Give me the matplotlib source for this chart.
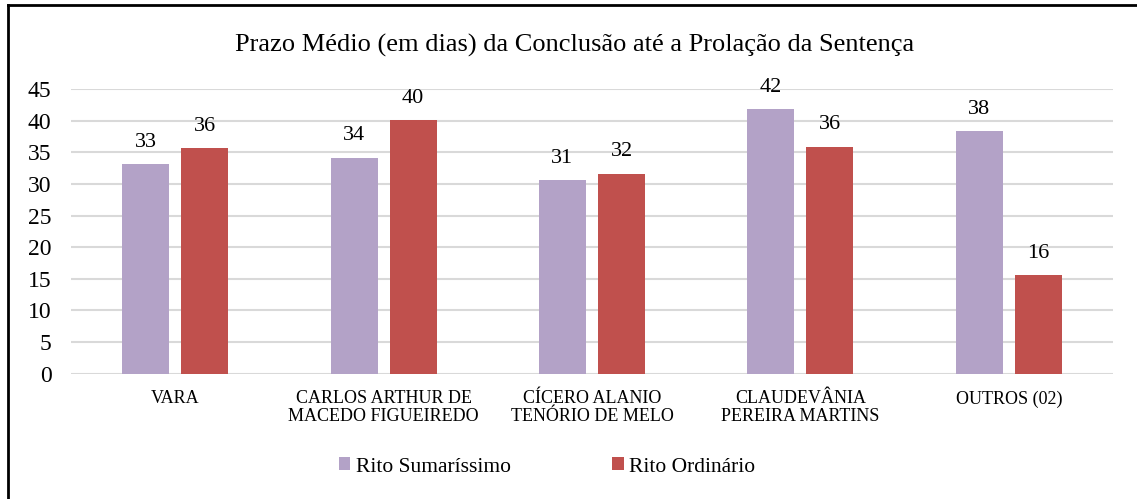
import matplotlib
matplotlib.use("Agg")
import matplotlib.pyplot as plt
import numpy as np
from matplotlib.lines import Line2D

categories = ["VARA", "CARLOS ARTHUR DE\nMACEDO FIGUEIREDO", "CÍCERO ALANIO\nTENÓRIO DE MELO",
              "CLAUDEVÂNIA\nPEREIRA MARTINS", "OUTROS (02)"]
sumarissimo = [33.1, 34.1, 30.6, 41.8, 38.3]
ordinario = [35.6, 40.1, 31.6, 35.9, 15.6]
labels_sum = ["33", "34", "31", "42", "38"]
labels_ord = ["36", "40", "32", "36", "16"]
yticks = [0, 5, 10, 15, 20, 25, 30, 35, 40, 45]

plt.rcParams['font.family'] = ['Liberation Serif', 'DejaVu Serif']

W, H = 1137, 499
fig = plt.figure(figsize=(W / 100, H / 100), dpi=100)
ax = fig.add_axes([71 / W, 1 - 373.7 / H, (1113 - 71) / W, (373.7 - 89) / H])

x = np.arange(len(categories))
bw = 0.2255
gap = 0.058
c1, c2 = "#b3a2c7", "#c0504d"
b1 = ax.bar(x - (bw + gap) / 2, sumarissimo, bw, color=c1, zorder=3, label="Rito Sumaríssimo")
b2 = ax.bar(x + (bw + gap) / 2, ordinario, bw, color=c2, zorder=3, label="Rito Ordinário")

for bars, labs in ((b1, labels_sum), (b2, labels_ord)):
    for rect, lab in zip(bars, labs):
        ax.annotate(lab, (rect.get_x() + rect.get_width() / 2, rect.get_height()),
                    xytext=(0, 9), textcoords="offset points", ha="center", va="bottom",
                    fontsize=16, color="#000000")

ax.set_xlim(-0.5, len(categories) - 0.5)
ax.set_ylim(0, 45)
ax.set_yticks(yticks)
ax.set_yticklabels([str(v) for v in yticks], fontsize=17)
ax.set_xticks(x)
ax.set_xticklabels(categories, fontsize=13, linespacing=1.05)
ax.tick_params(axis="both", length=0)
ax.tick_params(axis="y", pad=14)
ax.tick_params(axis="x", pad=12)
ax.yaxis.grid(True, color="#d9d9d9", linewidth=1.5, zorder=0)
ax.set_axisbelow(True)
for s in ax.spines.values():
    s.set_visible(False)

fig.text(575 / W, 1 - 45 / H, "Prazo Médio (em dias) da Conclusão até a Prolação da Sentença",
         ha="center", va="center", fontsize=19)

fig.legend(handles=[b1, b2], loc="center", bbox_to_anchor=(547 / W, 1 - 467 / H),
           ncol=2, frameon=False, fontsize=15.5, handlelength=0.55, handleheight=0.55,
           handletextpad=0.25, columnspacing=4.7)

# figure border (top and left visible)
fig.add_artist(Line2D([8 / W, 8 / W], [0, 1 - 5 / H], transform=fig.transFigure, color="black", linewidth=2))
fig.add_artist(Line2D([8 / W, 1], [1 - 5 / H, 1 - 5 / H], transform=fig.transFigure, color="black", linewidth=2))

fig.savefig("out.png", dpi=100)
